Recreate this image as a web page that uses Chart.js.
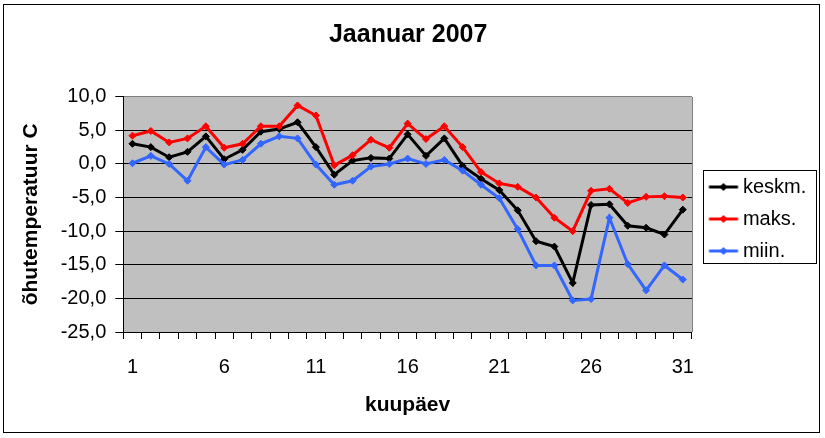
<!DOCTYPE html>
<html><head><meta charset="utf-8">
<script src="https://cdn.jsdelivr.net/npm/chart.js@4"></script>
<style>html,body{margin:0;padding:0;background:#fff}#wrap{width:825px;height:438px;position:relative}</style>
</head><body><div id="wrap"><canvas id="c"></canvas></div>
<script>
const days = ['1','2','3','4','5','6','7','8','9','10','11','12','13','14','15','16','17','18','19','20','21','22','23','24','25','26','27','28','29','30','31'];
const keskm = [3.0, 2.5, 1.0, 1.8, 4.1, 0.7, 2.1, 4.8, 5.2, 6.2, 2.5, -1.6, 0.5, 0.9, 0.8, 4.4, 1.2, 3.8, -0.3, -2.2, -3.9, -6.9, -11.5, -12.3, -17.7, -6.1, -6.0, -9.2, -9.5, -10.5, -6.8];
const maks = [4.2, 4.9, 3.2, 3.8, 5.6, 2.4, 3.0, 5.6, 5.6, 8.7, 7.2, -0.2, 1.3, 3.6, 2.4, 6.0, 3.7, 5.6, 2.5, -1.2, -2.9, -3.4, -5.0, -8.0, -10.0, -4.0, -3.7, -5.8, -4.9, -4.8, -5.0];
const miin = [0.1, 1.2, 0.0, -2.5, 2.5, -0.1, 0.6, 3.0, 4.1, 3.8, -0.1, -3.1, -2.5, -0.4, 0.0, 0.8, 0.0, 0.6, -1.0, -3.1, -5.1, -9.7, -15.1, -15.1, -20.3, -20.1, -8.0, -14.9, -18.8, -15.1, -17.2];
const seriesNames = ['keskm.', 'maks.', 'miin.'];
const seriesColors = ['#000000', '#ff0000', '#3366ff'];
const yTicksMin = -25, yTicksMax = 10, yStep = 5;

Chart.defaults.font.family = "'Liberation Sans', Arial, sans-serif";
Chart.defaults.color = '#000';

function legendImage(color) {
  const c = document.createElement('canvas');
  c.width = 50; c.height = 10;
  const g = c.getContext('2d');
  g.strokeStyle = color; g.lineWidth = 3;
  g.beginPath(); g.moveTo(15.5, 5); g.lineTo(44.5, 5); g.stroke();
  g.fillStyle = color;
  g.beginPath(); g.moveTo(30, 1); g.lineTo(34, 5); g.lineTo(30, 9); g.lineTo(26, 5); g.closePath(); g.fill();
  return c;
}
const legendImgs = seriesColors.map(legendImage);

const deco = {
  id: 'deco',
  beforeDraw(chart) {
    const {ctx, chartArea: a} = chart;
    ctx.save();
    ctx.fillStyle = '#c0c0c0';
    ctx.fillRect(a.left, a.top, a.right - a.left, a.bottom - a.top);
    ctx.restore();
  },
  afterDraw(chart) {
    const {ctx, chartArea: a} = chart;
    ctx.save();
    ctx.lineWidth = 1;
    ctx.strokeStyle = '#808080';
    const rx = Math.round(a.right) + 0.5;
    ctx.beginPath(); ctx.moveTo(rx, Math.round(a.top)); ctx.lineTo(rx, Math.round(a.bottom)); ctx.stroke();
    const hb = chart.legend.legendHitBoxes;
    if (hb && hb.length) {
      const first = hb[0], last = hb[hb.length - 1];
      const left = Math.round(first.left) - 0.5;
      const top = Math.round(first.top + 10 - 17.5) + 0.5;
      const bottom = Math.round(last.top + 10 + 11.5) + 0.5;
      ctx.strokeStyle = '#000';
      ctx.strokeRect(left, top, 113, bottom - top);
    }
    ctx.strokeStyle = '#000';
    ctx.strokeRect(3.5, 4.5, 816, 428);
    ctx.restore();
  }
};

const mk = (i, data, order) => ({
  label: seriesNames[i], data, order,
  borderColor: seriesColors[i], backgroundColor: seriesColors[i],
  borderWidth: 3, pointStyle: 'rectRot', pointRadius: 3.5, pointHoverRadius: 3.5,
  pointBorderWidth: 1, pointBackgroundColor: seriesColors[i], pointBorderColor: seriesColors[i],
  tension: 0, fill: false
});

new Chart(document.getElementById('c'), {
  type: 'line',
  data: {
    labels: days,
    datasets: [mk(0, keskm, 2), mk(1, maks, 1), mk(2, miin, 0)]
  },
  plugins: [deco],
  options: {
    responsive: true, maintainAspectRatio: false, animation: false,
    layout: { padding: { left: 0, right: 8.7, top: 0, bottom: 0 } },
    plugins: {
      tooltip: { enabled: false },
      title: { display: true, text: 'Jaanuar 2007', color: '#000',
        font: { size: 25, weight: 'bold' }, padding: { top: 20, bottom: 46.7 } },
      legend: {
        display: true, position: 'right', align: 'center',
        labels: {
          color: '#000', font: { size: 20 }, padding: 12,
          usePointStyle: true, pointStyleWidth: 29, boxHeight: 10,
          sort: (a, b) => a.datasetIndex - b.datasetIndex,
          generateLabels(chart) {
            const items = Chart.defaults.plugins.legend.labels.generateLabels(chart);
            items.forEach(it => { it.pointStyle = legendImgs[it.datasetIndex]; });
            return items;
          }
        }
      }
    },
    scales: {
      x: {
        type: 'category', offset: true,
        grid: { display: true, drawOnChartArea: false, drawTicks: true, tickLength: 7, color: '#000', offset: true },
        border: { display: true, color: '#000', width: 1 },
        ticks: { autoSkip: false, maxRotation: 0, minRotation: 0, color: '#000', font: { size: 20 }, padding: 16.5,
          callback(v, i) { return i % 5 === 0 ? this.getLabelForValue(v) : ''; } },
        title: { display: true, text: 'kuupäev', color: '#000', font: { size: 21, weight: 'bold' }, padding: { top: 20.2, bottom: 20.2 } },
        afterFit(s) { s.height = 106; }
      },
      y: {
        min: yTicksMin, max: yTicksMax,
        ticks: { stepSize: yStep, color: '#000', font: { size: 20 }, padding: 9,
          callback: v => Number(v).toFixed(1).replace('.', ',') },
        grid: { color: c => (c.tick && c.tick.value === yTicksMax) ? '#808080' : '#000', tickColor: '#000', tickLength: 8, drawTicks: true },
        border: { display: true, color: '#000', width: 1 },
        title: { display: true, text: 'õhutemperatuur C', color: '#000', font: { size: 21, weight: 'bold' }, padding: { top: 18.4, bottom: 0 } },
        afterFit(s) { s.width = 123.3; }
      }
    }
  }
});
</script>
</body></html>
